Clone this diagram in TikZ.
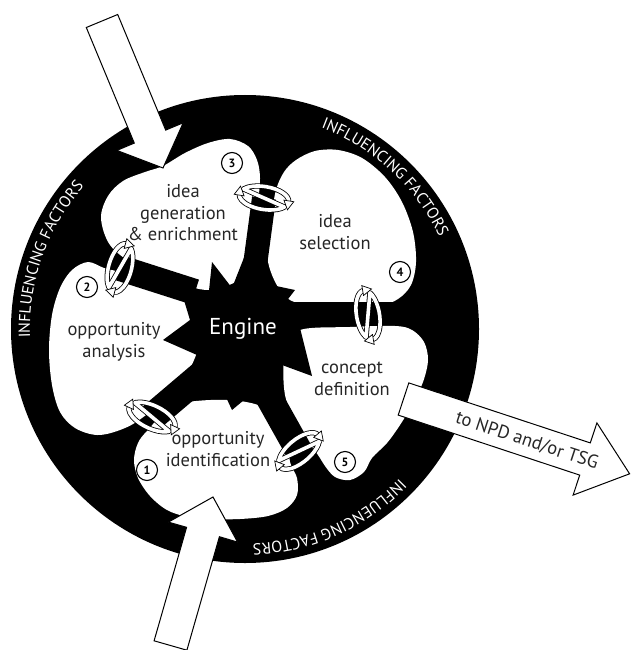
\documentclass[tikz,border=0pt]{standalone}
\usepackage{fontspec}
\setmainfont{PT Sans}
\newfontfamily\ringfont{PT Sans}
\usetikzlibrary{decorations.text}

\tikzset{
  blob/.style={fill=white},
  ribbon/.style={draw=black, line width=0.8pt, double=white, double distance=3.6pt, line join=round},
  tiphead/.style={fill=white, draw=black, line width=0.7pt, line join=miter},
  bigarrow/.style={fill=white, draw=black, line width=1pt, line join=miter},
  lbl/.style={align=center, text=black!85, font=\fontsize{18.5}{21.5}\selectfont, inner sep=0pt},
  numc/.style={circle, draw=black, line width=1.1pt, fill=white, inner sep=0pt, minimum size=21pt,
    font=\fontsize{12}{12}\selectfont\bfseries},
  ringlabel/.style={decorate, decoration={text along path, text align=center, text color=white,
    text={|\ringfont\fontsize{16}{16}\selectfont|INFLUENCING FACTORS}}}
}

% ring-shaped double arrow wrapped round a spoke: x, y, angle of the long axis
\newcommand{\linkmark}[3]{%
  \begin{scope}[shift={(#1,#2)}, rotate=#3]
    \draw[ribbon] (25,0) arc[start angle=0, end angle=-150, x radius=25, y radius=11.5]
      -- (21.65,5.75) arc[start angle=30, end angle=180, x radius=25, y radius=11.5];
    \draw[tiphead] (25,8) -- (20,-1) -- (30,-1) -- cycle;
    \draw[tiphead] (-25,-8) -- (-30,1) -- (-20,1) -- cycle;
  \end{scope}}

\begin{document}
\begin{tikzpicture}[x=1pt, y=-1pt]
\useasboundingbox (0,0) rectangle (631,650);
\fill[white] (0,0) rectangle (631,650);

% outer ring
\fill[black] (245,329) circle[radius=234];

% the five process areas
\fill[blob] plot[smooth cycle, tension=0.55] coordinates {
  (101,218) (108,196) (123,181) (145,172) (163,166) (185,153) (208,143) (230,139)
  (248,146) (257,160) (260,178) (258,205) (256,240) (245,275) (210,290) (170,280)
  (135,265) (110,245)};
\fill[blob] plot[smooth cycle, tension=0.55] coordinates {
  (272,215) (276,190) (284,172) (296,160) (315,151) (338,150) (362,158) (385,177)
  (402,202) (413,232) (416,262) (411,285) (398,299) (380,305) (340,305) (290,300)
  (268,262)};
\fill[blob] plot[smooth cycle, tension=0.55] coordinates {
  (300,330) (350,327) (395,326) (412,330) (424,342) (428,360) (423,382) (412,405)
  (400,425) (387,443) (372,458) (364,472) (350,480) (335,477) (325,466) (318,455)
  (300,430) (285,395) (285,350)};
\fill[blob] plot[smooth cycle, tension=0.55] coordinates {
  (290,462) (297,478) (297,495) (287,508) (268,516) (240,519) (212,519) (188,517)
  (167,510) (150,496) (138,478) (134,460) (138,443) (148,430) (175,405) (230,400)
  (270,410) (287,435)};
\fill[blob] plot[smooth cycle, tension=0.55] coordinates {
  (104,268) (88,262) (72,270) (60,288) (52,315) (49,350) (52,385) (60,412)
  (75,428) (97,435) (120,430) (142,418) (180,385) (200,340) (190,300) (150,280)
  (120,272)};

% spokes
\draw[line width=26pt] (195,292) -- (120,268);
\draw[line width=24pt] (255,265) -- (264,198);
\draw[line width=23pt] (280,313.5) -- (445,313.5);
\draw[line width=27pt] (262,385) -- (299,451);
\draw[line width=28pt] (205,372) -- (152,417);

% engine
\fill[black] (247,250) -- (262,283) -- (295,290) -- (285,303) -- (300,328) -- (312,376)
  -- (282,365) -- (262,385) -- (232,410) -- (217,378) -- (195,382) -- (197,355)
  -- (163,340) -- (190,320) -- (180,287) -- (208,300) -- (212,262) -- (232,288) -- cycle;
\node[text=white, font=\fontsize{23}{23}\selectfont, inner sep=0pt] (engine) at (243,329) {Engine};

% links between the areas
\linkmark{120}{268}{75}
\linkmark{264}{198}{-9}
\linkmark{368}{315}{100}
\linkmark{299}{451}{40}
\linkmark{152}{417}{-25}

% inputs and output
\filldraw[bigarrow] (86.3,27.5) -- (117.7,14.5) -- (165.7,130.1) -- (183.2,122.8)
  -- (163,168) -- (116.8,150.4) -- (134.3,143.1) -- cycle;
\filldraw[bigarrow] (154.1,640.8) -- (186.6,527.3) -- (168.4,522.1) -- (213,497)
  -- (237.6,542.1) -- (219.4,536.7) -- (186.9,650.2) -- cycle;
\filldraw[bigarrow] (408.8,382.9) -- (590.3,442.9) -- (596.9,422.9) -- (629.6,473.8)
  -- (573.1,495.1) -- (579.7,475.1) -- (398.2,415.1) -- cycle;
\node[lbl, rotate=-18.3] (out) at (527,441) {to NPD and/or TSG};

% area labels
\node[lbl] (gen) at (183,213) {idea\\generation\\\& enrichment};
\node[lbl] (sel) at (335,232) {idea\\selection};
\node[lbl] (def) at (352,379) {concept\\definition};
\node[lbl] (ident) at (218,449) {opportunity\\identification};
\node[lbl] (anal) at (114,342) {opportunity\\analysis};

\node[numc] (n1) at (147,470) {1};
\node[numc] (n2) at (87,287) {2};
\node[numc] (n3) at (232,163) {3};
\node[numc] (n4) at (400,272) {4};
\node[numc] (n5) at (345,462) {5};

% ring captions
\path[ringlabel] (245,329) ++(-210.4:215) arc[start angle=-210.4, end angle=-110.4, radius=215];
\path[ringlabel] (245,329) ++(-97.3:215) arc[start angle=-97.3, end angle=2.7, radius=215];
\path[ringlabel] (245,329) ++(16:215) arc[start angle=16, end angle=116, radius=215];
\end{tikzpicture}
\end{document}
